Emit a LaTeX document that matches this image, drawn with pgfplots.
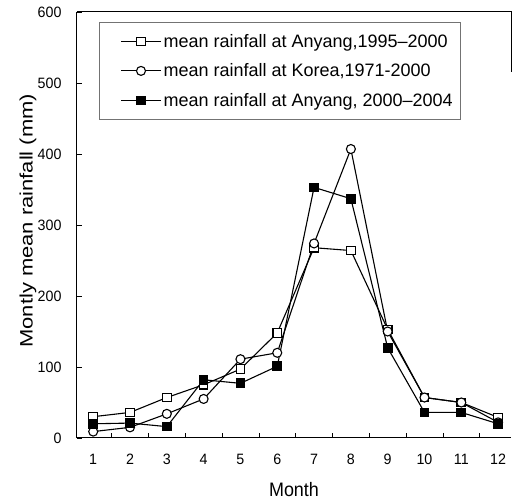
\documentclass[border=0pt]{standalone}
\usepackage{pgfplots}
\pgfplotsset{compat=1.18}
\usepackage{fontspec}
\setmainfont{Liberation Sans}
\newfontfamily\ylabfont[FakeStretch=1.22]{Liberation Sans}
\newfontfamily\xlabfont[FakeStretch=0.92]{Liberation Sans}
\newfontfamily\tickfont[FakeStretch=0.95]{Liberation Sans}
\begin{document}
\begin{tikzpicture}
\begin{axis}[
  name=ax,
  scale only axis, width=434pt, height=426pt,
  xmin=0.56, xmax=12.35, ymin=0, ymax=600,
  axis x line*=bottom, axis y line*=left,
  axis line style={line width=1pt},
  clip=false,
  xtick={1,...,12},
  major x tick style={draw=none},
  minor xtick={1.5,2.5,...,11.5},
  ytick={0,100,...,600},
  xticklabels={1,2,3,4,5,6,7,8,9,10,11,12},
  yticklabels={0,100,200,300,400,500,600},
  tick align=inside, major tick length=5pt, minor tick length=5pt,
  tick style={black, line width=0.6pt},
  tick label style={font=\tickfont\fontsize{15}{17}\selectfont},
  xticklabel style={anchor=north, yshift=-13pt},
  yticklabel style={anchor=east, xshift=-12pt},
  xlabel={\xlabfont Month},
  ylabel={\ylabfont Montly mean rainfall (mm)},
  xlabel style={font=\fontsize{19.5}{22}\selectfont, at={(axis description cs:0.5,0)}, anchor=center, yshift=-52pt},
  ylabel style={font=\fontsize{18}{21}\selectfont, at={(axis description cs:0,0.51)}, anchor=center, yshift=49pt},
  legend style={at={(rel axis cs:0.05,0.977)}, anchor=north west,
    draw=black!55, line width=0.6pt, font=\fontsize{18}{21}\selectfont,
    inner xsep=6pt, inner ysep=10pt, row sep=11pt},
  legend cell align=left,
  legend image code/.code={%
    \path[draw=none] (0pt,0pt) -- (12pt,0pt);
    \draw[mark repeat=2,mark phase=2] plot coordinates {(16pt,0pt) (36pt,0pt) (56pt,0pt)};},
  every axis plot/.append style={black, line width=1.1pt, mark options={solid, line width=0.9pt}},
]
\addplot[mark=square*, mark size=4.3pt, mark options={fill=white}] coordinates {
(1,30) (2,36) (3,57) (4,75) (5,97) (6,148) (7,268) (8,264) (9,153) (10,57) (11,50) (12,29)};
\addlegendentry{mean rainfall at Anyang,1995--2000}
\addplot[mark=*, mark size=4.5pt, mark options={fill=white}] coordinates {
(1,9) (2,15) (3,34) (4,55) (5,111) (6,120) (7,274) (8,407) (9,150) (10,57) (11,50) (12,22)};
\addlegendentry{mean rainfall at Korea,1971-2000}
\addplot[mark=square*, mark size=4.3pt, mark options={fill=black}] coordinates {
(1,20) (2,21) (3,16) (4,82) (5,77) (6,101) (7,353) (8,337) (9,127) (10,36) (11,36) (12,20)};
\addlegendentry{mean rainfall at Anyang, 2000--2004}
\draw[line width=1pt] (rel axis cs:0,1) -- (rel axis cs:1,1) -- (rel axis cs:1,0.86);
\end{axis}
\pgfresetboundingbox
\path ([xshift=-77pt,yshift=-66pt]ax.south west) rectangle ([xshift=1pt,yshift=12pt]ax.north east);
\end{tikzpicture}
\end{document}
